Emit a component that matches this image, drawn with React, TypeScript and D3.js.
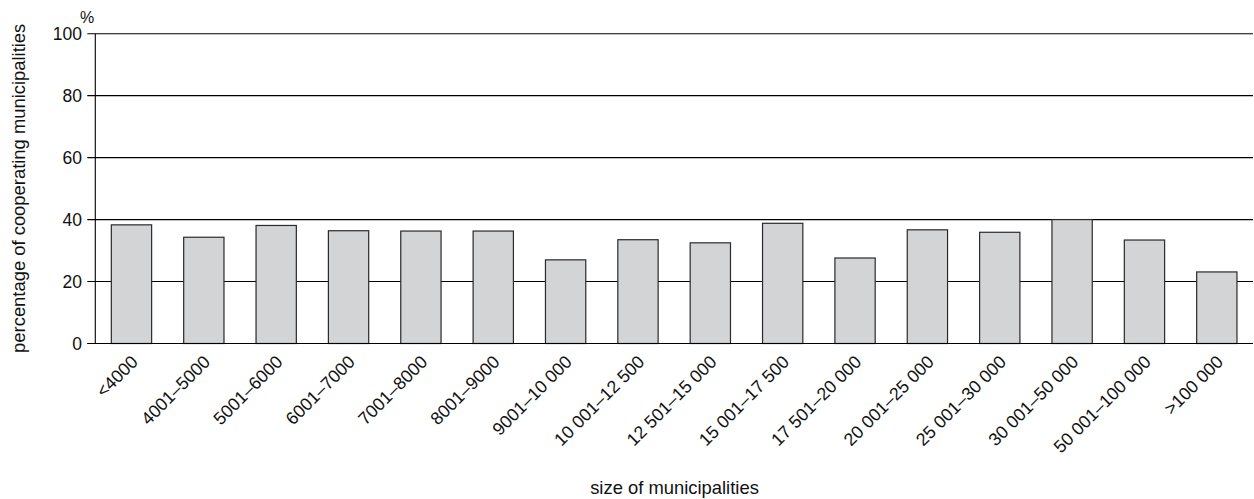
import React from "react";
import * as d3 from "d3";

const categories: string[] = [
  "<4000",
  "4001–5000",
  "5001–6000",
  "6001–7000",
  "7001–8000",
  "8001–9000",
  "9001–10 000",
  "10 001–12 500",
  "12 501–15 000",
  "15 001–17 500",
  "17 501–20 000",
  "20 001–25 000",
  "25 001–30 000",
  "30 001–50 000",
  "50 001–100 000",
  ">100 000",
];
const values: number[] = [38.3, 34.3, 38.1, 36.4, 36.3, 36.3, 27.0, 33.5, 32.5, 38.8, 27.6, 36.7, 35.9, 40.0, 33.4, 23.1];
const yTicks: number[] = [0, 20, 40, 60, 80, 100];
const yTitle = "percentage of cooperating municipalities";
const xTitle = "size of municipalities";
const unitLabel = "%";

const W = 1254;
const H = 499;
const FONT = "'Liberation Sans', Arial, Helvetica, sans-serif";

export default function App() {
  const left = 95.3;
  const right = 1253;
  const top = 33.7;
  const bottom = 343.5;

  const x = d3
    .scaleBand<string>()
    .domain(categories)
    .range([left, right])
    .paddingInner(0.443)
    .paddingOuter(0.2215);
  const y = d3.scaleLinear().domain([0, 100]).range([bottom, top]);

  return (
    <svg
      width={W}
      height={H}
      viewBox={`0 0 ${W} ${H}`}
      style={{ position: "absolute", left: 0, top: 0, display: "block", background: "#fff" }}
      fontFamily={FONT}
    >
      {yTicks.map((t) => (
        <g key={t}>
          <line x1={left - 8} x2={right} y1={y(t)} y2={y(t)} stroke="#000" strokeWidth={1.1} />
          <text x={82} y={y(t)} dy="0.36em" textAnchor="end" fontSize={17.5} fill="#111">
            {t}
          </text>
        </g>
      ))}
      <line x1={left} x2={left} y1={top} y2={bottom} stroke="#000" strokeWidth={1.1} />
      {categories.map((c, i) => (
        <rect
          key={c}
          x={x(c)!}
          y={y(values[i])}
          width={x.bandwidth()}
          height={y(0) - y(values[i])}
          fill="#d3d4d6"
          stroke="#2a2a2a"
          strokeWidth={1.2}
        />
      ))}
      <line x1={left - 8} x2={right} y1={y(0)} y2={y(0)} stroke="#000" strokeWidth={1.1} />
      {categories.map((c) => {
        const cx = x(c)! + x.bandwidth() / 2 + 7.5;
        const cy = 363;
        return (
          <text
            key={c}
            x={cx}
            y={cy}
            transform={`rotate(-45 ${cx} ${cy})`}
            textAnchor="end"
            fontSize={17.8}
            fill="#111"
          >
            {c}
          </text>
        );
      })}
      <text x={87} y={23} textAnchor="middle" fontSize={16} fill="#111">
        {unitLabel}
      </text>
      <text
        x={0}
        y={0}
        transform={`translate(24.5 188.3) rotate(-90)`}
        textAnchor="middle"
        fontSize={18.4}
        fill="#111"
      >
        {yTitle}
      </text>
      <text x={674.5} y={494} textAnchor="middle" fontSize={18.4} fill="#111">
        {xTitle}
      </text>
    </svg>
  );
}
